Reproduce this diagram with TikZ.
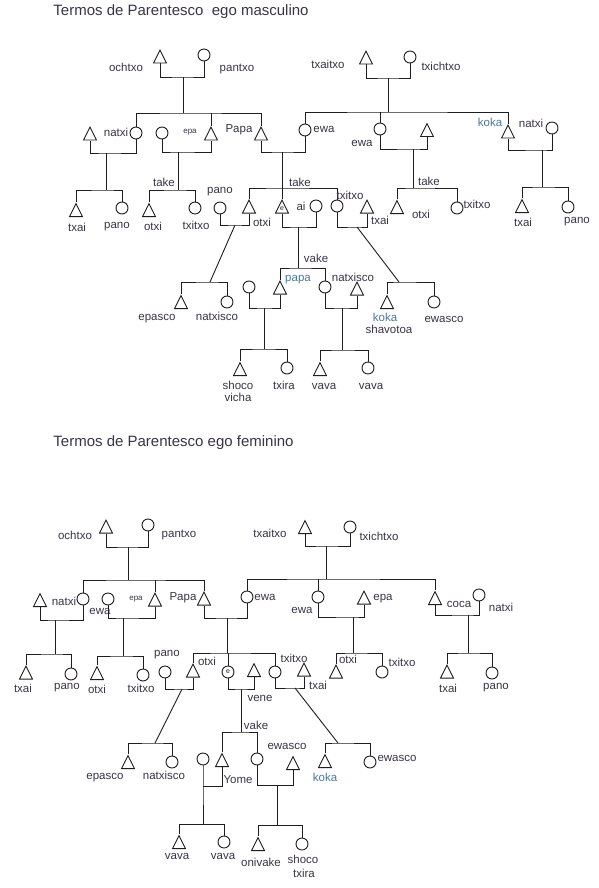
\documentclass[tikz,border=0pt]{standalone}
\usepackage{fontspec}
\setmainfont{Liberation Sans}
\usetikzlibrary{shapes.geometric}
\definecolor{ink}{HTML}{1E1E1E}
\definecolor{txt}{HTML}{3A3446}
\definecolor{blu}{HTML}{4A78A0}
\begin{document}
\begin{tikzpicture}[x=1pt,y=-1pt, line width=0.9pt, color=ink,
  tri/.style={draw=ink, isosceles triangle, shape border rotate=90, isosceles triangle stretches, minimum width=13pt, minimum height=13pt, inner sep=0pt, anchor=south},
  fem/.style={draw=ink, circle, minimum size=12pt, inner sep=0pt},
  lbl/.style={font=\fontsize{11.5}{13}\selectfont, inner sep=0pt, text=txt},
  sml/.style={font=\fontsize{8}{9}\selectfont, inner sep=0pt, text=txt},
  blbl/.style={lbl, text=blu},
  ttl/.style={font=\fontsize{15}{18}\selectfont, inner sep=0pt, text=txt, anchor=west},
  egomark/.style={label={[font=\fontsize{7}{8}\selectfont, inner sep=0pt, text=ink]center:e}}
]
\useasboundingbox[fill=white] (0,0) rectangle (598,888);

%%%%%%%%%%%%%%%% TOP: ego masculino %%%%%%%%%%%%%%%%
\node[ttl] (aTitle) at (53,12) {Termos de Parentesco\ \ ego masculino};

% generation 1 left
\node[tri] (aT1) at (160,63.5) {};
\node[fem] (aC1) at (204,55) {};
\node[lbl] (aL1) at (126,67) {ochtxo};
\node[lbl] (aL2) at (237,69) {pantxo};
\coordinate (am1) at (183,77);
\coordinate (ab1) at (183,113);
\draw (aT1.south) |- (am1) -| (aC1.south);
\draw (am1) -- (ab1);

% generation 1 right
\node[tri] (aT2) at (366,64.5) {};
\node[fem] (aC2) at (410,57) {};
\node[lbl] (aL3) at (328,64) {txaitxo};
\node[lbl] (aL4) at (441,66) {txichtxo};
\coordinate (am2) at (388,78);
\coordinate (ab2) at (388,112);
\draw (aT2.south) |- (am2) -| (aC2.south);
\draw (am2) -- (ab2);

% generation 2 left
\node[tri] (aNatH) at (90,140.5) {};
\node[fem] (aNat) at (136,133) {};
\node[lbl] (aL5) at (116,132) {natxi};
\node[fem] (aEpaW) at (162,133) {};
\node[sml] (aL6) at (190,132) {epa};
\node[tri] (aEpa) at (211,140.5) {};
\node[lbl] (aL7) at (239,130) {Papa};
\node[tri] (aPapa) at (261,140.5) {};
\draw (aNat.north) |- (ab1) -| (aPapa.north);
\draw (aEpa.north) -- (aEpa.north |- ab1);

% generation 2 right
\node[fem] (aEwa1) at (305,130) {};
\node[lbl] (aL8) at (324,129) {ewa};
\node[fem] (aEwa2) at (380,129) {};
\node[lbl] (aL9) at (362,143) {ewa};
\node[tri] (aEwa2H) at (427,137) {};
\node[tri] (aKoka) at (508,138.5) {};
\node[blbl] (aL10) at (490,122) {koka};
\node[lbl] (aL11) at (531,123) {natxi};
\node[fem] (aNat2) at (552,128) {};
\draw (aEwa1.north) |- (ab2) -| (aKoka.north);
\draw (aEwa2.north) -- (aEwa2.north |- ab2);

% natxi family
\coordinate (am4) at (106,153);
\coordinate (ab4) at (106,190);
\draw (aNatH.south) |- (am4) -| (aNat.south);
\draw (am4) -- (ab4);
\node[tri] (aTxai1) at (76,217) {};
\node[fem] (aPano1) at (122,208) {};
\draw (aTxai1.north) |- (ab4) -| (aPano1.north);
\node[lbl] (aL12) at (77,227) {txai};
\node[lbl] (aL13) at (117,227) {pano};

% epa family
\coordinate (am5) at (178,152);
\coordinate (ab5) at (178,190);
\draw (aEpaW.south) |- (am5) -| (aEpa.south);
\draw (am5) -- (ab5);
\node[lbl] (aL14) at (164,182) {take};
\node[tri] (aOtxi1) at (149,217) {};
\node[fem] (aTxitxo1) at (195,208) {};
\draw (aOtxi1.north) |- (ab5) -| (aTxitxo1.north);
\node[lbl] (aL15) at (153,226) {otxi};
\node[lbl] (aL16) at (196,225) {txitxo};

% Papa family
\coordinate (am3) at (282,152);
\coordinate (ab3) at (282,188);
\draw (aPapa.south) |- (am3) -| (aEwa1.south);
\draw (am3) -- (ab3);
\node[lbl] (aL17) at (300,182) {take};
\node[tri] (aOtxi2) at (249,213.5) {};
\node[tri, egomark] (aEgo) at (282,213.5) {};
\node[fem] (aAi) at (316,206) {};
\node[fem] (aTxitxo2) at (337,206) {};
\node[tri] (aTxai2) at (367,213.5) {};
\draw (aOtxi2.north) |- (ab3) -| (aTxitxo2.north);
\draw (aEgo.north) -- (aEgo.north |- ab3);
\node[fem] (aPano2) at (220,208) {};
\node[lbl] (aL18) at (220,192) {pano};
\node[lbl] (aL19) at (262,222) {otxi};
\node[lbl] (aL20) at (301,206) {ai};
\node[lbl] (aL21) at (350,195) {txitxo};
\node[lbl] (aL22) at (380,220) {txai};
\coordinate (am6) at (235,225);
\draw (aPano2.south) |- (am6) -| (aOtxi2.south);
\coordinate (am7) at (298,227);
\coordinate (ab7) at (298,268);
\draw (aEgo.south) |- (am7) -| (aAi.south);
\draw (am7) -- (ab7);
\coordinate (am8) at (357,227);
\draw (aTxitxo2.south) |- (am8) -| (aTxai2.south);
\coordinate (ab6) at (210,282);
\draw (am6) -- (ab6);
\coordinate (ab8) at (399,282);
\draw (am8) -- (ab8);

% epasco group
\node[tri] (aEpasco) at (181,309) {};
\node[fem] (aNatxisco1) at (227,302) {};
\draw (aEpasco.north) |- (ab6) -| (aNatxisco1.north);
\node[lbl] (aL23) at (157,319) {epasco};
\node[lbl] (aL24) at (217,316) {natxisco};

% koka group
\node[tri] (aKoka2) at (387,309) {};
\node[fem] (aEwasco) at (434,302) {};
\draw (aKoka2.north) |- (ab8) -| (aEwasco.north);
\node[blbl] (aL25) at (385,317) {koka};
\node[lbl] (aL26) at (389,329) {shavotoa};
\node[lbl] (aL27) at (444,319) {ewasco};

% ego children
\node[lbl] (aL28) at (316,258) {vake};
\node[tri] (aPapa2) at (280,294.5) {};
\node[fem] (aNatxisco2) at (325,287) {};
\draw (aPapa2.north) |- (ab7) -| (aNatxisco2.north);
\node[blbl] (aL29) at (298,280) {papa};
\node[lbl] (aL30) at (353,277) {natxisco};
\node[fem] (aPapaW) at (249,287) {};
\coordinate (am9) at (264,308);
\coordinate (ab9) at (264,349);
\draw (aPapaW.south) |- (am9) -| (aPapa2.south);
\draw (am9) -- (ab9);
\node[tri] (aShoco) at (240,376) {};
\node[fem] (aTxira) at (287,368) {};
\draw (aShoco.north) |- (ab9) -| (aTxira.north);
\node[lbl] (aL31) at (238,385) {shoco};
\node[lbl] (aL32) at (238,397) {vicha};
\node[lbl] (aL33) at (284,385) {txira};
\node[tri] (aNatH2) at (357,295.5) {};
\coordinate (am10) at (342,308);
\coordinate (ab10) at (342,350);
\draw (aNatxisco2.south) |- (am10) -| (aNatH2.south);
\draw (am10) -- (ab10);
\node[tri] (aVava1) at (320,376) {};
\node[fem] (aVava2) at (368,368) {};
\draw (aVava1.north) |- (ab10) -| (aVava2.north);
\node[lbl] (aL34) at (324,386) {vava};
\node[lbl] (aL35) at (371,386) {vava};

% ewa (2) family
\coordinate (am11) at (413,149);
\coordinate (ab11) at (413,188);
\draw (aEwa2.south) |- (am11) -| (aEwa2H.south);
\draw (am11) -- (ab11);
\node[lbl] (aL36) at (429,181) {take};
\node[tri] (aOtxi3) at (397,214) {};
\node[fem] (aTxitxo3) at (457,208) {};
\draw (aOtxi3.north) |- (ab11) -| (aTxitxo3.north);
\node[lbl] (aL37) at (421,214) {otxi};
\node[lbl] (aL38) at (477,204) {txitxo};

% koka family
\coordinate (am12) at (542,150);
\coordinate (ab12) at (542,187);
\draw (aKoka.south) |- (am12) -| (aNat2.south);
\draw (am12) -- (ab12);
\node[tri] (aTxai3) at (522,213) {};
\node[fem] (aPano3) at (568,207) {};
\draw (aTxai3.north) |- (ab12) -| (aPano3.north);
\node[lbl] (aL39) at (523,222) {txai};
\node[lbl] (aL40) at (577,222) {pano};

%%%%%%%%%%%%%%%% BOTTOM: ego feminino %%%%%%%%%%%%%%%%
\node[ttl] (bTitle) at (53,443) {Termos de Parentesco ego feminino};

% generation 1 left
\node[tri] (bT1) at (106,533.5) {};
\node[fem] (bC1) at (148,525) {};
\node[lbl] (bL1) at (75,535) {ochtxo};
\node[lbl] (bL2) at (179,535) {pantxo};
\coordinate (bm1) at (128,547);
\coordinate (bb1) at (128,580);
\draw (bT1.south) |- (bm1) -| (bC1.south);
\draw (bm1) -- (bb1);

% generation 2 left
\node[tri] (bNatH) at (40,607) {};
\node[fem] (bNat) at (83,599) {};
\node[fem] (bEwa0) at (108,599) {};
\node[tri] (bEpa) at (155,606.5) {};
\node[tri] (bPapa) at (204,605.5) {};
\node[lbl] (bL3) at (64,601) {natxi};
\node[lbl] (bL4) at (100,611) {ewa};
\node[sml] (bL5) at (136,599) {epa};
\node[lbl] (bL6) at (183,598) {Papa};
\draw (bNat.north) |- (bb1) -| (bPapa.north);
\draw (bEpa.north) -- (bEpa.north |- bb1);

% generation 1 right
\node[tri] (bT2) at (305,534) {};
\node[fem] (bC2) at (350,527) {};
\node[lbl] (bL7) at (270,533) {txaitxo};
\node[lbl] (bL8) at (379,536) {txichtxo};
\coordinate (bm2) at (326,546);
\coordinate (bb2) at (326,579);
\draw (bT2.south) |- (bm2) -| (bC2.south);
\draw (bm2) -- (bb2);

% generation 2 right
\node[fem] (bEwa1) at (247,597) {};
\node[fem] (bEwa2) at (318,597) {};
\node[tri] (bEpa2) at (364,604.5) {};
\node[tri] (bCoca) at (435,605) {};
\node[fem] (bNat2) at (479,595) {};
\node[lbl] (bL9) at (265,597) {ewa};
\node[lbl] (bL10) at (302,610) {ewa};
\node[lbl] (bL11) at (383,599) {epa};
\node[lbl] (bL12) at (459,604) {coca};
\node[lbl] (bL13) at (501,607) {natxi};
\draw (bEwa1.north) |- (bb2) -| (bCoca.north);
\draw (bEwa2.north) -- (bEwa2.north |- bb2);

% natxi family
\coordinate (bm3) at (55,620);
\coordinate (bb3) at (55,654);
\draw (bNatH.south) |- (bm3) -| (bNat.south);
\draw (bm3) -- (bb3);
\node[tri] (bTxai1) at (26,679.5) {};
\node[fem] (bPano1) at (71,674) {};
\draw (bTxai1.north) |- (bb3) -| (bPano1.north);
\node[lbl] (bL14) at (23,688) {txai};
\node[lbl] (bL15) at (67,688) {pano};

% ewa / epa family
\coordinate (bm4) at (123,618);
\coordinate (bb4) at (123,656);
\draw (bEwa0.south) |- (bm4) -| (bEpa.south);
\draw (bm4) -- (bb4);
\node[tri] (bOtxi1) at (97,680) {};
\node[fem] (bTxitxo1) at (143,675) {};
\draw (bOtxi1.north) |- (bb4) -| (bTxitxo1.north);
\node[lbl] (bL16) at (97,689) {otxi};
\node[lbl] (bL17) at (141,688) {txitxo};

% Papa / ewa family
\coordinate (bm5) at (227,618);
\coordinate (bb5) at (227,653);
\draw (bPapa.south) |- (bm5) -| (bEwa1.south);
\draw (bm5) -- (bb5);
\node[tri] (bOtxi2) at (193,677.5) {};
\node[fem] (bEgo) at (228,672) {\fontsize{7}{8}\selectfont e};
\node[tri] (bEgoH) at (254,677) {};
\node[fem] (bTxitxo2) at (275,672) {};
\node[tri] (bTxai2) at (304,676.5) {};
\draw (bOtxi2.north) |- (bb5) -| (bTxitxo2.north);
\draw (bEgo.north) -- (bEgo.north |- bb5);
\node[fem] (bPano2) at (165,672) {};
\node[lbl] (bL18) at (167,655) {pano};
\node[lbl] (bL19) at (207,661) {otxi};
\node[lbl] (bL20) at (294,658) {txitxo};
\node[lbl] (bL21) at (318,685) {txai};
\node[lbl] (bL22) at (260,698) {vene};
\node[lbl] (bL23) at (256,725) {vake};
\coordinate (bm6) at (182,689);
\draw (bPano2.south) |- (bm6) -| (bOtxi2.south);
\coordinate (bm7) at (241,689);
\coordinate (bb7) at (241,732);
\draw (bEgo.south) |- (bm7) -| (bEgoH.south);
\draw (bm7) -- (bb7);
\coordinate (bm8) at (295,688);
\draw (bTxitxo2.south) |- (bm8) -| (bTxai2.south);
\coordinate (bb6) at (155,743);
\draw (bm6) -- (bb6);
\coordinate (bb8) at (338,743);
\draw (bm8) -- (bb8);

% epasco group
\node[tri] (bEpasco) at (128,769) {};
\node[fem] (bNatxisco) at (172,762) {};
\draw (bEpasco.north) |- (bb6) -| (bNatxisco.north);
\node[lbl] (bL24) at (105,778) {epasco};
\node[lbl] (bL25) at (164,775) {natxisco};

% koka group
\node[tri] (bKoka) at (325,768) {};
\node[fem] (bEwasco) at (370,762) {};
\draw (bKoka.north) |- (bb8) -| (bEwasco.north);
\node[blbl] (bL26) at (325,777) {koka};
\node[lbl] (bL27) at (397,758) {ewasco};

% ego children
\node[tri] (bSon) at (222,767) {};
\node[fem] (bDau) at (257,759) {};
\draw (bSon.north) |- (bb7) -| (bDau.north);
\node[fem] (bSonW) at (203,759) {};
\coordinate (bm9) at (203,786);
\coordinate (bb9) at (203,824);
\draw (bSonW.south) -- (bm9) -- (bb9);
\draw (bm9) -| (bSon.south);
\node[lbl] (bL28) at (238,780) {Yome};
\node[lbl] (bL29) at (287,746) {ewasco};
\node[tri] (bVava1) at (179,849) {};
\node[fem] (bVava2) at (224,842) {};
\draw (bVava1.north) |- (bb9) -| (bVava2.north);
\node[lbl] (bL30) at (177,856) {vava};
\node[lbl] (bL31) at (223,856) {vava};
\node[tri] (bDauH) at (293,770) {};
\coordinate (bm10) at (277,785);
\coordinate (bb10) at (277,825);
\draw (bDau.south) |- (bm10) -| (bDauH.south);
\draw (bm10) -- (bb10);
\node[tri] (bOniv) at (258,851) {};
\node[fem] (bShoco) at (302,844) {};
\draw (bOniv.north) |- (bb10) -| (bShoco.north);
\node[lbl] (bL32) at (261,862) {onivake};
\node[lbl] (bL33) at (303,859) {shoco};
\node[lbl] (bL34) at (304,873) {txira};

% ewa / epa (right) family
\coordinate (bm11) at (353,617);
\coordinate (bb11) at (353,653);
\draw (bEwa2.south) |- (bm11) -| (bEpa2.south);
\draw (bm11) -- (bb11);
\node[tri] (bOtxi3) at (336,678.5) {};
\node[fem] (bTxitxo3) at (382,672) {};
\draw (bOtxi3.north) |- (bb11) -| (bTxitxo3.north);
\node[lbl] (bL35) at (348,659) {otxi};
\node[lbl] (bL36) at (402,662) {txitxo};

% coca family
\coordinate (bm12) at (468,615);
\coordinate (bb12) at (468,653);
\draw (bCoca.south) |- (bm12) -| (bNat2.south);
\draw (bm12) -- (bb12);
\node[tri] (bTxai3) at (447,678.5) {};
\node[fem] (bPano3) at (492,673) {};
\draw (bTxai3.north) |- (bb12) -| (bPano3.north);
\node[lbl] (bL37) at (448,688) {txai};
\node[lbl] (bL38) at (496,688) {pano};
\end{tikzpicture}
\end{document}
